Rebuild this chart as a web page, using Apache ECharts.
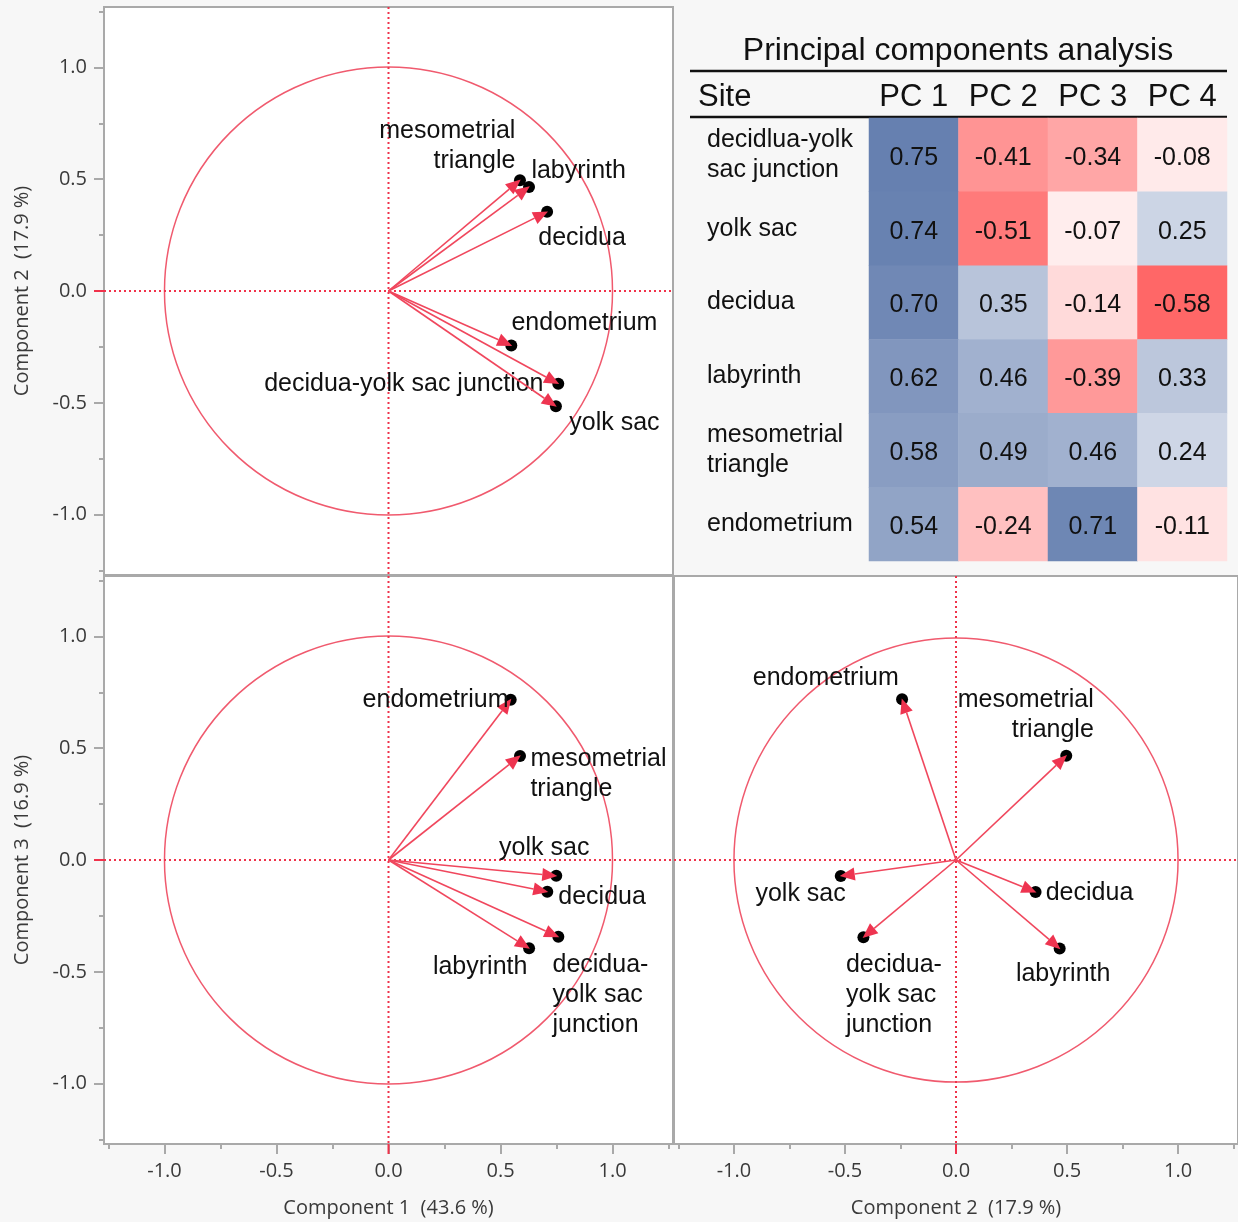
<!DOCTYPE html>
<html>
<head>
<meta charset="utf-8">
<script src="https://cdn.jsdelivr.net/npm/echarts@6/dist/echarts.min.js"></script>
<style>
  html, body { margin: 0; padding: 0; background: #f7f7f7; }
  #chart { width: 1238px; height: 1222px; }
</style>
</head>
<body>
<div id="chart"></div>
<script>
// ---- data -------------------------------------------------------------
const siteNames = ['decidua-yolk sac junction', 'yolk sac', 'decidua', 'labyrinth', 'mesometrial triangle', 'endometrium'];
const tableRowLabels = ['decidlua-yolk\nsac junction', 'yolk sac', 'decidua', 'labyrinth', 'mesometrial\ntriangle', 'endometrium'];
const pcNames = ['PC 1', 'PC 2', 'PC 3', 'PC 4'];

const pc1 = [0.75, 0.74, 0.70, 0.62, 0.58, 0.54];
const pc2 = [-0.41, -0.51, 0.35, 0.46, 0.49, -0.24];
const pc3 = [-0.34, -0.07, -0.14, -0.39, 0.46, 0.71];
const pc4 = [-0.08, 0.25, -0.58, 0.33, 0.24, -0.11];

const componentNames = ['Component 1  (43.6 %)', 'Component 2  (17.9 %)', 'Component 3  (16.9 %)'];
const tableTitle = 'Principal components analysis';
const siteHeader = 'Site';

const majorTicks = [-1, -0.5, 0, 0.5, 1];
const minorTicks = [-1.25, -0.75, -0.25, 0.25, 0.75, 1.25];

// biplot labels (line breaks differ between panels)
const labelsWide = ['decidua-yolk sac junction', 'yolk sac', 'decidua', 'labyrinth', 'mesometrial\ntriangle', 'endometrium'];
const labelsStacked = ['decidua-\nyolk sac\njunction', 'yolk sac', 'decidua', 'labyrinth', 'mesometrial\ntriangle', 'endometrium'];

// ---- styling ----------------------------------------------------------
const LIM = 1.27;
const TEXT_FONT = '"Liberation Sans", Arial, sans-serif';
const AXIS_FONT = '"Open Sans", "Noto Sans", sans-serif';
const RED_LINE = '#f0475d';
const RED_HEAD = '#ee3450';
const RED_CIRCLE = '#f05a6e';
const RED_DOT = '#f0324b';
const FRAME = '#a9a9a9';

// label placement around each arrow tip: [dx, dy, align]
const layoutTop = [[-13, 1, 'right'], [15, 18, 'left'], [-7, 25, 'left'], [4, -17, 'left'], [-3, -35, 'right'], [2, -22, 'left']];
const layoutBottomLeft = [[-4, 59, 'left'], [-10, -28, 'center'], [13, 6, 'left'], [0, 20, 'right'], [12, 17, 'left'], [-1, -1, 'right']];
const layoutBottomRight = [[-19, 59, 'left'], [3, 18, 'right'], [12, 2, 'left'], [5, 27, 'center'], [29, -42, 'right'], [-4, -23, 'right']];

const grids = [
  { left: 104, top: 7, width: 569, height: 568 },
  { left: 104, top: 576, width: 569, height: 568 },
  { left: 674, top: 576, width: 569, height: 568 }
].map(g => Object.assign({ show: true, backgroundColor: '#ffffff', borderColor: FRAME, borderWidth: 2 }, g));
grids.push({ left: 869, top: 118, width: 358, height: 443, show: false });

function valueAxis(gridIndex, opts) {
  const o = Object.assign({ labels: false, ticks: false, minor: false, name: '', pos: 'bottom' }, opts);
  return {
    type: 'value', gridIndex, min: -LIM, max: LIM, position: o.pos,
    show: true,
    name: o.name, nameLocation: 'middle', nameGap: o.pos === 'left' ? 72 : 54,
    nameTextStyle: { fontFamily: AXIS_FONT, fontSize: 20, color: '#3a3a3a' },
    axisLine: { show: false, onZero: false },
    splitLine: { show: false },
    axisTick: {
      show: o.ticks || o.minor,
      customValues: o.minor ? minorTicks : majorTicks,
      length: o.minor ? 5 : 10,
      lineStyle: { color: FRAME, width: 2 }
    },
    axisLabel: {
      show: o.labels, customValues: majorTicks, margin: 17,
      fontFamily: AXIS_FONT, fontSize: 20, color: '#3a3a3a',
      formatter: v => v.toFixed(1)
    }
  };
}

const xAxes = [
  valueAxis(0, {}),
  valueAxis(1, { labels: true, ticks: true, name: componentNames[0] }),
  valueAxis(2, { labels: true, ticks: true, name: componentNames[1] }),
  valueAxis(1, { minor: true }),
  valueAxis(2, { minor: true }),
  {
    type: 'category', gridIndex: 3, data: pcNames, position: 'top',
    axisLine: { show: false }, axisTick: { show: false }, splitLine: { show: false },
    axisLabel: { interval: 0, margin: 5, fontFamily: TEXT_FONT, fontSize: 31, color: '#111' }
  }
];
const yAxes = [
  valueAxis(0, { labels: true, ticks: true, name: componentNames[1], pos: 'left' }),
  valueAxis(1, { labels: true, ticks: true, name: componentNames[2], pos: 'left' }),
  valueAxis(2, { pos: 'left' }),
  valueAxis(0, { minor: true, pos: 'left' }),
  valueAxis(1, { minor: true, pos: 'left' }),
  {
    type: 'category', gridIndex: 3, data: tableRowLabels, inverse: true,
    axisLine: { show: false }, axisTick: { show: false }, splitLine: { show: false },
    axisLabel: { interval: 0, align: 'left', margin: 162, fontFamily: TEXT_FONT, fontSize: 25, lineHeight: 30, color: '#111', padding: [4, 0, 0, 0] }
  }
];

// ---- biplot series ----------------------------------------------------
function biplotSeries(axisIndex, xs, ys, labels, layout, zeroTicks) {
  const common = { type: 'custom', coordinateSystem: 'cartesian2d', xAxisIndex: axisIndex, yAxisIndex: axisIndex, silent: true, clip: false };
  const unitCircle = Object.assign({}, common, {
    z: 1, data: [[0, 0]],
    renderItem: (params, api) => {
      const c = api.coord([0, 0]);
      const r = api.size([1, 1])[0];
      return { type: 'circle', shape: { cx: c[0], cy: c[1], r }, style: { fill: 'none', stroke: RED_CIRCLE, lineWidth: 1.5 } };
    }
  });
  const crosshair = Object.assign({}, common, {
    z: 2, data: [[0, 0]],
    renderItem: (params, api) => {
      const top = api.coord([0, LIM]), bottom = api.coord([0, -LIM]);
      const left = api.coord([-LIM, 0]), right = api.coord([LIM, 0]);
      const dotted = { fill: 'none', stroke: RED_DOT, lineWidth: 2, lineDash: [2, 3] };
      const solid = { fill: 'none', stroke: RED_DOT, lineWidth: 2 };
      const children = [
        { type: 'line', shape: { x1: top[0], y1: top[1], x2: bottom[0], y2: bottom[1] }, style: dotted },
        { type: 'line', shape: { x1: left[0], y1: left[1], x2: right[0], y2: right[1] }, style: dotted }
      ];
      if (zeroTicks.bottom) children.push({ type: 'line', shape: { x1: bottom[0], y1: bottom[1], x2: bottom[0], y2: bottom[1] + 10 }, style: solid });
      if (zeroTicks.left) children.push({ type: 'line', shape: { x1: left[0], y1: left[1], x2: left[0] - 10, y2: left[1] }, style: solid });
      return { type: 'group', children };
    }
  });
  const arrows = Object.assign({}, common, {
    z: 3,
    data: xs.map((x, i) => [x, ys[i]]),
    encode: { x: 0, y: 1 },
    renderItem: (params, api) => {
      const i = params.dataIndex;
      const p0 = api.coord([0, 0]);
      const p1 = api.coord([api.value(0), api.value(1)]);
      const dx = p1[0] - p0[0], dy = p1[1] - p0[1];
      const len = Math.sqrt(dx * dx + dy * dy);
      const ux = dx / len, uy = dy / len, nx = -uy, ny = ux;
      const tip = [p1[0] + ux * 3, p1[1] + uy * 3];
      const base = [tip[0] - ux * 15, tip[1] - uy * 15];
      const lay = layout[i];
      return {
        type: 'group',
        children: [
          { type: 'circle', shape: { cx: p1[0] + ux * 2, cy: p1[1] + uy * 2, r: 6 }, style: { fill: '#000' } },
          { type: 'line', shape: { x1: p0[0], y1: p0[1], x2: base[0], y2: base[1] }, style: { fill: 'none', stroke: RED_LINE, lineWidth: 1.6 } },
          { type: 'polygon', shape: { points: [tip, [base[0] + nx * 6.5, base[1] + ny * 6.5], [base[0] - nx * 6.5, base[1] - ny * 6.5]] }, style: { fill: RED_HEAD } },
          {
            type: 'text', x: p1[0] + lay[0], y: p1[1] + lay[1],
            style: { text: labels[i], fill: '#111', fontFamily: 'Liberation Sans, Arial, sans-serif', fontSize: 25, lineHeight: 30, align: lay[2], verticalAlign: 'middle' }
          }
        ]
      };
    }
  });
  return [unitCircle, crosshair, arrows];
}

const series = [].concat(
  biplotSeries(0, pc1, pc2, labelsWide, layoutTop, { left: true }),
  biplotSeries(1, pc1, pc3, labelsStacked, layoutBottomLeft, { left: true, bottom: true }),
  biplotSeries(2, pc2, pc3, labelsStacked, layoutBottomRight, { bottom: true })
);

// ---- loadings table ---------------------------------------------------
const loadings = [pc1, pc2, pc3, pc4];
const heatData = [];
siteNames.forEach((_, r) => loadings.forEach((col, c) => heatData.push([c, r, col[r]])));
const heatIndex = series.length;
series.push({
  type: 'heatmap', xAxisIndex: 5, yAxisIndex: 5, data: heatData, silent: true,
  itemStyle: { borderWidth: 0 },
  label: { show: true, offset: [0, 3], formatter: p => p.value[2].toFixed(2), fontFamily: TEXT_FONT, fontSize: 25, color: '#111' },
  emphasis: { disabled: true }
});

const option = {
  backgroundColor: '#f7f7f7',
  animation: false,
  grid: grids,
  xAxis: xAxes,
  yAxis: yAxes,
  visualMap: {
    show: false, type: 'continuous', min: -0.75, max: 0.75, dimension: 2, seriesIndex: heatIndex,
    inRange: { color: ['#ff3b3b', '#ffffff', '#6680b0'] }
  },
  graphic: [
    { type: 'text', x: 958, y: 51, style: { text: tableTitle, fontFamily: TEXT_FONT, fontSize: 32, fill: '#111', align: 'center', verticalAlign: 'middle' } },
    { type: 'text', x: 698, y: 97, style: { text: siteHeader, fontFamily: TEXT_FONT, fontSize: 31, fill: '#111', align: 'left', verticalAlign: 'middle' } },
    { type: 'line', shape: { x1: 690, y1: 71, x2: 1227, y2: 71 }, style: { stroke: '#111', lineWidth: 2.5 } },
    { type: 'line', shape: { x1: 690, y1: 117, x2: 1227, y2: 117 }, style: { stroke: '#111', lineWidth: 2.5 } }
  ],
  series
};

const chart = echarts.init(document.getElementById('chart'), null, { renderer: 'canvas' });
chart.setOption(option);
</script>
</body>
</html>
